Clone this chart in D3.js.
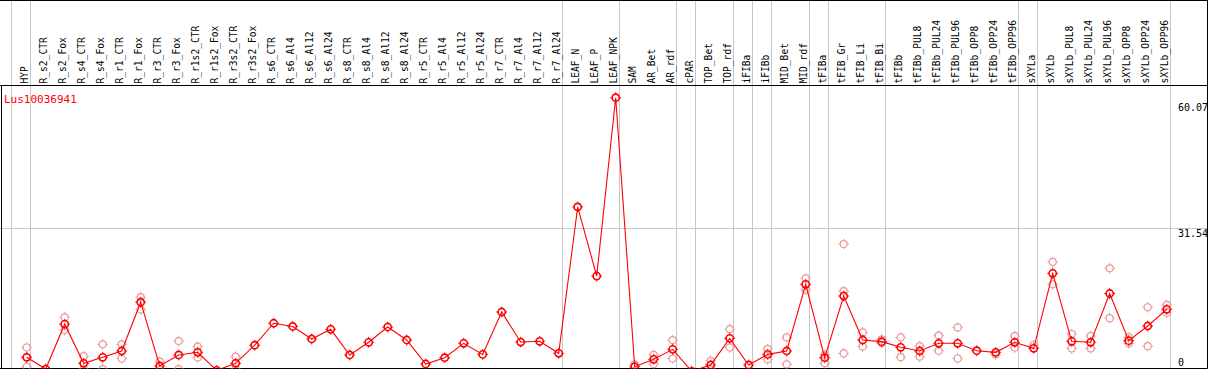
<!DOCTYPE html>
<html><head><meta charset="utf-8">
<script src="https://cdn.jsdelivr.net/npm/d3@7"></script>
<style>html,body{margin:0;padding:0;background:#fff;}svg{display:block;}</style>
</head><body>
<script>
const categories = ["HYP","R_s2_CTR","R_s2_Fox","R_s4_CTR","R_s4_Fox","R_r1_CTR","R_r1_Fox","R_r3_CTR","R_r3_Fox","R_r1s2_CTR","R_r1s2_Fox","R_r3s2_CTR","R_r3s2_Fox","R_s6_CTR","R_s6_Al4","R_s6_Al12","R_s6_Al24","R_s8_CTR","R_s8_Al4","R_s8_Al12","R_s8_Al24","R_r5_CTR","R_r5_Al4","R_r5_Al12","R_r5_Al24","R_r7_CTR","R_r7_Al4","R_r7_Al12","R_r7_Al24","LEAF_N","LEAF_P","LEAF_NPK","SAM","AR_Bet","AR_rdf","cPAR","TOP_Bet","TOP_rdf","iFIBa","iFIBb","MID_Bet","MID_rdf","tFIBa","tFIB_Gr","tFIB_Li","tFIB_Bi","tFIBb","tFIBb_PUL8","tFIBb_PUL24","tFIBb_PUL96","tFIBb_OPP8","tFIBb_OPP24","tFIBb_OPP96","sXYLa","sXYLb","sXYLb_PUL8","sXYLb_PUL24","sXYLb_PUL96","sXYLb_OPP8","sXYLb_OPP24","sXYLb_OPP96"];
const groupSizes = [1,28,3,3,1,2,1,1,2,1,3,7,1,7];
const meanValues = [3.36,0.8,10.6,2.05,3.36,4.74,15.4,1.46,3.87,4.45,0.5,2.05,6.0,10.8,10.1,7.36,9.48,3.87,6.64,9.98,7.14,1.9,3.28,6.42,4.0,13.26,6.7,6.86,4.24,36.2,21.1,60.07,1.3,2.93,5.1,0.3,1.68,7.5,1.68,4.0,4.74,19.3,3.28,16.75,7.14,6.78,5.55,4.74,6.42,6.42,4.8,4.45,6.64,5.33,21.7,6.86,6.64,17.3,7.0,10.2,13.85];
const rep1 = [5.5,null,12.1,3.6,6.2,6.2,16.5,2.4,6.9,5.7,null,3.5,null,null,null,null,null,null,null,null,null,null,null,null,null,null,null,null,null,null,null,null,1.8,3.9,7.1,null,2.6,9.5,null,5.2,7.7,20.6,3.9,28.1,8.8,7.3,7.7,5.8,8.1,9.9,null,4.0,8.0,6.05,24.2,8.45,8.0,22.8,7.7,14.3,14.8];
const rep2 = [1.3,null,9.3,0.8,0.8,3.1,13.8,0.6,0.8,3.3,null,0.8,null,null,null,null,null,null,null,null,null,null,null,null,null,null,null,null,null,null,null,null,null,1.9,3.1,null,0.8,5.5,null,2.9,1.8,18.1,2.05,17.8,5.7,6.5,3.4,3.5,4.8,3.1,null,null,5.5,null,19.3,5.3,5.3,11.9,6.4,5.8,13.1];
const rep3 = [3.3,null,null,null,null,null,null,null,null,null,null,null,null,null,null,null,null,null,null,null,null,null,null,null,null,null,null,null,null,null,null,null,null,null,null,null,null,null,null,null,null,null,null,4.2,null,null,null,null,null,null,null,null,null,null,null,null,null,null,null,null,null];
const tickValues = [60.07, 31.54, 0];
const tickLabels = ["60.07","31.54","0"];
const geneLabel = "Lus10036941";

const W = 1209, H = 370;
const svg = d3.select("body").append("svg").attr("width", W).attr("height", H);

const x = d3.scaleBand().domain(categories).range([11.4, 11.4 + 19 * categories.length]).padding(0);
const bw = x.bandwidth();
const px = d => x(d) + bw * 0.805;
const y = d3.scaleLinear().domain([0, 60.07]).range([372.7, 97.7]);

const headerBottom = 85.5, plotBottom = 368.5, rightEdge = 1207.5;
const grey = "#c6c6c6";

// group boundaries
const bounds = [0];
groupSizes.reduce((a, s) => { bounds.push(a + s); return a + s; }, 0);
svg.append("g").selectAll("line").data(bounds).join("line")
  .attr("x1", k => Math.round(11.4 + k * bw) + 0.5)
  .attr("x2", k => Math.round(11.4 + k * bw) + 0.5)
  .attr("y1", 0).attr("y2", plotBottom)
  .attr("stroke", grey).attr("stroke-width", 1);

// horizontal mid grid line
svg.append("line").attr("x1", 0).attr("x2", rightEdge)
  .attr("y1", Math.round(y(tickValues[1])) + 0.5).attr("y2", Math.round(y(tickValues[1])) + 0.5)
  .attr("stroke", grey);

// frame
const frame = svg.append("g").attr("stroke", "#000").attr("stroke-width", 1);
frame.append("line").attr("x1", 0).attr("x2", rightEdge).attr("y1", 0.5).attr("y2", 0.5);
frame.append("line").attr("x1", 0).attr("x2", rightEdge).attr("y1", headerBottom).attr("y2", headerBottom);
frame.append("line").attr("x1", 0).attr("x2", rightEdge).attr("y1", plotBottom).attr("y2", plotBottom);
frame.append("line").attr("x1", 1.5).attr("x2", 1.5).attr("y1", headerBottom).attr("y2", plotBottom);
frame.append("line").attr("x1", rightEdge).attr("x2", rightEdge).attr("y1", 0).attr("y2", plotBottom);

// header labels
svg.append("g").selectAll("text").data(categories).join("text")
  .attr("transform", d => `translate(${px(d) + 1.8},83.5) rotate(-90)`)
  .attr("font-family", "DejaVu Sans Mono, monospace")
  .attr("font-size", 9.6)
  .attr("fill", "#000")
  .text(d => d);

// gene label
svg.append("text").attr("x", 4).attr("y", 102.5)
  .attr("font-family", "DejaVu Sans Mono, monospace").attr("font-size", 11)
  .attr("fill", "#ff0000").text(geneLabel);

// axis labels
const labelOffsets = [13, 8.5, -6.7];
svg.append("g").selectAll("text").data(tickValues).join("text")
  .attr("x", 1178).attr("y", (v, i) => y(v) + labelOffsets[i])
  .attr("font-family", "DejaVu Sans Mono, monospace").attr("font-size", 10)
  .attr("fill", "#000").text((v, i) => tickLabels[i]);

const clip = svg.append("clipPath").attr("id", "plotclip").append("rect")
  .attr("x", 2).attr("y", headerBottom + 0.5).attr("width", rightEdge - 2).attr("height", plotBottom - headerBottom - 0.5);
const plot = svg.append("g").attr("clip-path", "url(#plotclip)");

function marker(g, cx, cy, color, sw, r) {
  g.append("circle").attr("cx", cx).attr("cy", cy).attr("r", r)
    .attr("fill", "none").attr("stroke", color).attr("stroke-width", sw);
  const t = [[0, -1], [0, 1], [-1, 0], [1, 0]];
  t.forEach(([dx, dy]) => {
    g.append("line").attr("x1", cx + dx * r).attr("y1", cy + dy * r)
      .attr("x2", cx + dx * (r + 1.8)).attr("y2", cy + dy * (r + 1.8))
      .attr("stroke", color).attr("stroke-width", 1);
  });
}

// replicates
const repG = plot.append("g");
[rep1, rep2, rep3].forEach(arr => {
  arr.forEach((v, i) => {
    if (v == null) return;
    marker(repG, px(categories[i]), y(v), "#eb9a9a", 1.2, 3.5);
  });
});

// main line
const line = d3.line().x((v, i) => px(categories[i])).y(v => y(v));
plot.append("path").datum(meanValues).attr("d", line)
  .attr("fill", "none").attr("stroke", "#ff0000").attr("stroke-width", 1.1);

const mainG = plot.append("g");
meanValues.forEach((v, i) => marker(mainG, px(categories[i]), y(v), "#ff0000", 1.6, 3.6));
</script>
</body></html>
